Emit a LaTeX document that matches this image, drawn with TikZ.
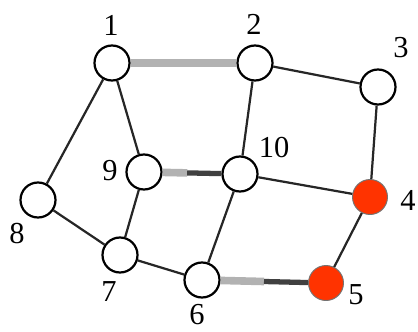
\documentclass[tikz,border=0pt]{standalone}
\usepackage{fontspec}
\setmainfont{Liberation Serif}
\usepackage{xcolor}
\usepackage{tikz}
\usetikzlibrary{calc}
\definecolor{hotred}{RGB}{255,51,0}
\tikzstyle{vertex} = [draw, circle, line width=1.9pt, minimum size=1.05cm, inner sep=0pt, fill=white]
\tikzstyle{marked} = [vertex, fill=hotred, draw=black!55, line width=0.8pt]
\tikzstyle{edge} = [draw, line width=1.9pt, black!85]
\tikzstyle{used} = [draw, line width=6.5pt, black!30]
\tikzstyle{half} = [draw, line width=4.5pt, black!75]
\tikzstyle{lab} = [font=\fontsize{26}{26}\selectfont, inner sep=0pt]

\begin{document}
\begin{tikzpicture}[x=0.03cm,y=-0.03cm]
		\useasboundingbox (0,0) rectangle (418,331); % frame of the picture
		
		\node[vertex] (n1) at (112,63) {}; % vertex 1
		\node[vertex] (n2) at (255,63) {}; % vertex 2
		\node[vertex] (n3) at (378,87) {}; % vertex 3
		\node[marked] (n4) at (370,197) {}; % vertex 4
		\node[marked] (n5) at (326,283) {}; % vertex 5
		\node[vertex] (n6) at (202,280) {}; % vertex 6
		\node[vertex] (n7) at (120,255) {}; % vertex 7
		\node[vertex] (n8) at (38,200) {}; % vertex 8
		\node[vertex] (n9) at (144,172) {}; % vertex 9
		\node[vertex] (n10) at (240,174) {}; % vertex 10
		
		\node[lab] (l1) at (111,25) {1};
		\node[lab] (l2) at (254,24) {2};
		\node[lab] (l3) at (401,48) {3};
		\node[lab] (l4) at (408,200) {4};
		\node[lab] (l5) at (356,295) {5};
		\node[lab] (l6) at (197,315) {6};
		\node[lab] (l7) at (109,292) {7};
		\node[lab] (l8) at (17,234) {8};
		\node[lab] (l9) at (110,171) {9};
		\node[lab] (l10) at (274,148) {10};
		
		\draw[used] (n1) -- (n2); % thick grey edge
		\draw[edge] (n1) -- (n8);
		\draw[edge] (n1) -- (n9);
		\draw[edge] (n2) -- (n3);
		\draw[edge] (n2) -- (n10);
		\draw[edge] (n3) -- (n4);
		\draw[edge] (n9) -- (n7);
		\draw[edge] (n8) -- (n7);
		\draw[edge] (n7) -- (n6);
		\draw[edge] (n10) -- (n6);
		\draw[edge] (n10) -- (n4);
		\draw[edge] (n4) -- (n5);
		
		\coordinate (m1) at ($(n9)!0.45!(n10)$); % split of edge 9-10
		\draw[used] (n9) -- (m1);
		\draw[half] (m1) -- (n10);
		\coordinate (m2) at ($(n6)!0.5!(n5)$); % split of edge 6-5
		\draw[used] (n6) -- (m2);
		\draw[half] (m2) -- (n5);
		
		\end{tikzpicture}
\end{document}
